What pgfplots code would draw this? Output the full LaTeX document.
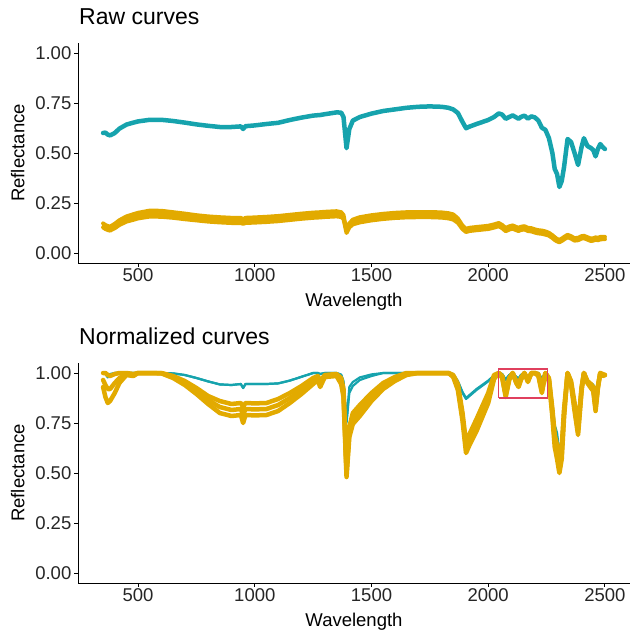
\documentclass[border=0pt]{standalone}
\usepackage{fontspec}
\setmainfont{Liberation Sans}
\usepackage{pgfplots}
\usepackage{pgfplotstable}
\pgfplotsset{compat=1.18}
\definecolor{tealc}{RGB}{22,163,173}
\definecolor{goldc}{RGB}{226,170,0}
\definecolor{boxred}{RGB}{224,64,94}

\pgfplotstableread{
wl t ga gm gb
350 0.600 0.148 0.138 0.128
360 0.602 0.140 0.130 0.120
370 0.592 0.135 0.125 0.115
380 0.588 0.132 0.122 0.112
400 0.600 0.146 0.135 0.124
420 0.622 0.164 0.152 0.140
450 0.642 0.183 0.170 0.157
480 0.652 0.194 0.180 0.166
500 0.658 0.201 0.187 0.173
550 0.666 0.212 0.197 0.182
600 0.666 0.211 0.196 0.181
650 0.660 0.204 0.190 0.176
700 0.652 0.197 0.183 0.169
750 0.643 0.189 0.176 0.163
800 0.636 0.183 0.170 0.157
850 0.630 0.179 0.166 0.153
900 0.630 0.176 0.163 0.150
940 0.633 0.176 0.163 0.150
950 0.620 0.168 0.157 0.146
960 0.634 0.176 0.163 0.150
1000 0.638 0.178 0.165 0.152
1050 0.645 0.181 0.168 0.155
1100 0.651 0.185 0.172 0.159
1150 0.665 0.191 0.178 0.165
1200 0.677 0.197 0.184 0.171
1250 0.687 0.202 0.189 0.176
1280 0.690 0.204 0.191 0.178
1300 0.694 0.206 0.193 0.180
1350 0.703 0.209 0.196 0.183
1370 0.702 0.204 0.192 0.180
1380 0.680 0.190 0.180 0.170
1393 0.524 0.110 0.105 0.100
1405 0.620 0.148 0.138 0.128
1420 0.662 0.167 0.155 0.143
1450 0.680 0.179 0.166 0.153
1500 0.697 0.189 0.176 0.163
1550 0.710 0.196 0.183 0.170
1600 0.718 0.201 0.188 0.175
1650 0.726 0.204 0.191 0.178
1700 0.731 0.205 0.192 0.179
1750 0.733 0.205 0.192 0.179
1800 0.731 0.203 0.190 0.177
1830 0.726 0.199 0.186 0.173
1850 0.718 0.193 0.180 0.167
1870 0.700 0.173 0.162 0.151
1890 0.655 0.137 0.128 0.119
1905 0.624 0.121 0.113 0.105
1920 0.632 0.126 0.118 0.110
1950 0.645 0.130 0.122 0.114
2000 0.665 0.136 0.128 0.120
2025 0.680 0.143 0.135 0.127
2045 0.698 0.150 0.142 0.134
2060 0.692 0.140 0.132 0.124
2075 0.671 0.125 0.117 0.109
2090 0.680 0.133 0.125 0.117
2105 0.688 0.138 0.130 0.122
2120 0.678 0.130 0.122 0.114
2130 0.671 0.126 0.118 0.110
2140 0.680 0.131 0.123 0.115
2155 0.687 0.134 0.126 0.118
2170 0.672 0.126 0.118 0.110
2185 0.683 0.124 0.116 0.108
2200 0.678 0.118 0.110 0.102
2215 0.662 0.114 0.106 0.098
2230 0.626 0.112 0.104 0.096
2245 0.616 0.108 0.100 0.092
2260 0.575 0.101 0.094 0.087
2275 0.500 0.089 0.082 0.075
2285 0.420 0.079 0.072 0.065
2295 0.395 0.070 0.064 0.058
2305 0.330 0.066 0.060 0.054
2315 0.360 0.072 0.066 0.060
2325 0.430 0.080 0.074 0.068
2340 0.570 0.091 0.085 0.079
2355 0.555 0.084 0.078 0.072
2370 0.500 0.074 0.068 0.062
2385 0.440 0.076 0.070 0.064
2400 0.530 0.084 0.078 0.072
2410 0.574 0.086 0.080 0.074
2425 0.535 0.079 0.073 0.067
2440 0.525 0.072 0.066 0.060
2450 0.515 0.074 0.068 0.062
2460 0.483 0.078 0.072 0.066
2470 0.520 0.076 0.070 0.064
2480 0.545 0.080 0.074 0.068
2490 0.530 0.081 0.075 0.069
2500 0.520 0.081 0.075 0.069
}\rawdata

\pgfplotstableread{
wl ta tb ga gm gb
350 1.000 1.000 1.000 0.965 0.930
360 0.995 1.000 1.000 0.940 0.880
370 0.978 0.990 0.990 0.920 0.850
380 0.990 0.995 0.985 0.920 0.860
400 1.000 1.000 0.995 0.950 0.900
420 1.000 1.000 1.000 0.975 0.950
450 1.000 1.000 1.000 0.995 0.990
480 1.000 1.000 0.995 0.990 0.985
500 1.000 1.000 1.000 1.000 1.000
550 1.000 1.000 1.000 1.000 1.000
600 1.000 1.000 1.000 0.999 0.998
650 0.998 0.998 0.985 0.980 0.975
700 0.990 0.990 0.960 0.950 0.940
750 0.975 0.975 0.925 0.910 0.895
800 0.958 0.958 0.885 0.865 0.845
850 0.943 0.943 0.860 0.830 0.800
900 0.940 0.940 0.845 0.815 0.785
940 0.945 0.945 0.850 0.820 0.790
950 0.925 0.925 0.830 0.790 0.750
960 0.945 0.945 0.850 0.820 0.790
1000 0.945 0.945 0.848 0.818 0.788
1050 0.945 0.945 0.850 0.820 0.790
1100 0.948 0.948 0.870 0.840 0.810
1150 0.962 0.962 0.900 0.875 0.850
1200 0.981 0.981 0.935 0.915 0.895
1250 1.000 1.000 0.975 0.960 0.945
1270 1.000 1.000 0.985 0.975 0.965
1280 0.995 0.995 0.960 0.945 0.930
1300 1.000 1.000 0.990 0.985 0.980
1350 1.000 1.000 0.995 0.990 0.985
1370 0.990 0.992 0.975 0.960 0.945
1380 0.950 0.960 0.920 0.900 0.880
1393 0.750 0.760 0.520 0.500 0.480
1405 0.900 0.930 0.730 0.705 0.680
1420 0.935 0.955 0.800 0.772 0.745
1450 0.965 0.978 0.840 0.812 0.785
1500 0.985 0.993 0.900 0.880 0.860
1550 1.000 1.000 0.950 0.935 0.920
1600 1.000 1.000 0.980 0.970 0.960
1650 1.000 1.000 1.000 0.995 0.990
1700 1.000 1.000 1.000 1.000 1.000
1750 1.000 1.000 1.000 1.000 1.000
1800 1.000 1.000 1.000 1.000 1.000
1830 1.000 1.000 1.000 1.000 1.000
1850 0.990 0.995 0.990 0.985 0.980
1870 0.955 0.960 0.945 0.930 0.915
1890 0.900 0.905 0.800 0.780 0.760
1905 0.870 0.875 0.650 0.625 0.600
1920 0.885 0.890 0.695 0.667 0.640
1950 0.915 0.920 0.770 0.740 0.710
2000 0.958 0.962 0.900 0.875 0.850
2025 0.985 0.988 0.990 0.980 0.970
2045 1.000 1.000 1.000 1.000 1.000
2060 0.995 0.995 0.985 0.980 0.975
2075 0.965 0.968 0.900 0.890 0.880
2090 0.990 0.990 0.975 0.970 0.965
2105 1.000 1.000 1.000 1.000 1.000
2120 0.980 0.982 0.960 0.955 0.950
2130 0.970 0.972 0.940 0.935 0.930
2140 0.990 0.990 0.975 0.970 0.965
2155 1.000 1.000 1.000 1.000 1.000
2170 0.980 0.982 0.965 0.960 0.955
2185 1.000 1.000 1.000 1.000 1.000
2200 1.000 1.000 1.000 1.000 1.000
2215 1.000 1.000 0.995 0.990 0.985
2230 0.970 0.972 0.920 0.910 0.900
2245 1.000 1.000 1.000 1.000 1.000
2260 0.980 0.980 0.975 0.970 0.965
2275 0.830 0.850 0.820 0.800 0.780
2285 0.720 0.740 0.690 0.660 0.630
2295 0.680 0.700 0.640 0.605 0.570
2305 0.580 0.600 0.530 0.515 0.500
2315 0.650 0.670 0.630 0.600 0.570
2325 0.820 0.830 0.820 0.800 0.780
2340 1.000 1.000 1.000 1.000 1.000
2355 0.960 0.965 0.960 0.950 0.940
2370 0.860 0.870 0.850 0.830 0.810
2385 0.750 0.760 0.730 0.710 0.690
2400 0.930 0.935 0.930 0.920 0.910
2410 1.000 1.000 1.000 1.000 1.000
2425 0.960 0.962 0.960 0.955 0.950
2440 0.945 0.948 0.945 0.935 0.925
2450 0.940 0.942 0.930 0.920 0.910
2460 0.880 0.885 0.840 0.825 0.810
2470 0.950 0.952 0.935 0.930 0.925
2480 1.000 1.000 1.000 1.000 1.000
2490 0.990 0.990 0.995 0.990 0.985
2500 0.990 0.990 0.990 0.990 0.990
}\normdata

\pgfplotsset{
  panel/.style={
    width=552pt, height=220pt, scale only axis,
    xmin=242.5, xmax=2607.5, ymin=-0.05, ymax=1.05,
    axis lines=left,
    axis line style={-, black, line width=0.9pt},
    tick align=outside, tick pos=left,
    major tick length=3.5pt,
    tick style={black, line width=0.9pt},
    xtick={500,1000,1500,2000,2500},
    ytick={0,0.25,0.5,0.75,1},
    /pgf/number format/assume math mode=true,
    xticklabel style={/pgf/number format/1000 sep={}},
    yticklabel style={/pgf/number format/.cd, fixed, fixed zerofill, precision=2},
    ticklabel style={font=\fontsize{18.5}{22}\selectfont, inner sep=0pt, text=black!85},
    xticklabel shift=2pt, yticklabel shift=3pt,
    label style={font=\fontsize{18.5}{22}\selectfont},
    xlabel={Wavelength}, ylabel={Reflectance},
    xlabel style={at={(axis description cs:0.5,0)}, anchor=base, yshift=-43pt, inner sep=0pt},
    ylabel style={at={(axis description cs:-0.109,0.5)}, anchor=center, inner sep=0pt},
    title style={at={(axis description cs:0,1)}, anchor=base west, yshift=13pt, xshift=1pt,
      inner sep=0pt, font=\fontsize{23}{27}\selectfont},
    every axis plot/.append style={no marks, line join=round, line cap=round},
  }
}

\begin{document}
\begin{tikzpicture}
\begin{axis}[panel, at={(78pt,-43pt)}, anchor=north west, title={Raw curves}]
  \addplot[tealc, line width=4.5pt] table[x=wl, y=t] {\rawdata};
  \addplot[goldc, line width=4pt] table[x=wl, y=ga] {\rawdata};
  \addplot[goldc, line width=4pt] table[x=wl, y=gb] {\rawdata};
  \addplot[goldc, line width=3pt] table[x=wl, y=gm] {\rawdata};
\end{axis}
\begin{axis}[panel, at={(78pt,-363pt)}, anchor=north west, title={Normalized curves}]
  \addplot[tealc, line width=2.2pt] table[x=wl, y=ta] {\normdata};
  \addplot[tealc, line width=2.2pt] table[x=wl, y=tb] {\normdata};
  \addplot[goldc, line width=4.5pt] table[x=wl, y=ga] {\normdata};
  \addplot[goldc, line width=4.5pt] table[x=wl, y=gb] {\normdata};
  \addplot[goldc, line width=4.5pt] table[x=wl, y=gm] {\normdata};
  \addplot[boxred, line width=1.5pt, line cap=butt, line join=miter] coordinates {(2045,0.875) (2255,0.875) (2255,1.02) (2045,1.02) (2045,0.875)};
\end{axis}
\pgfresetboundingbox
\path[use as bounding box] (0,0) rectangle (630pt,-632pt);
\end{tikzpicture}
\end{document}
